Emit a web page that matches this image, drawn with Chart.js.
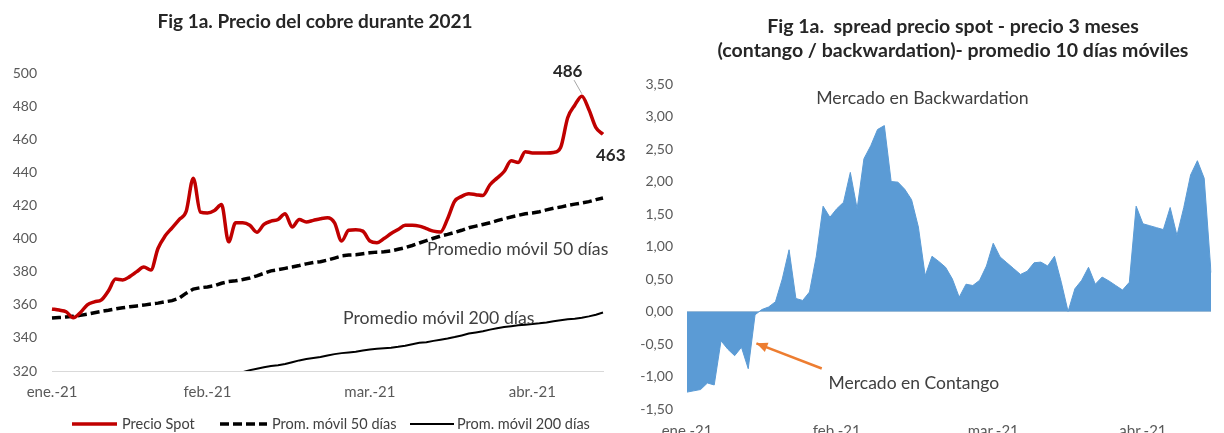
<!DOCTYPE html>
<html>
<head>
<meta charset="utf-8">
<script src="https://cdn.jsdelivr.net/npm/chart.js@4.4.1/dist/chart.umd.min.js"></script>
<style>
  html, body { margin: 0; padding: 0; background: #fff; overflow: hidden; width: 1224px; height: 433px; font-family: Lato, sans-serif; }
  canvas { position: absolute; top: 0; }
  #izq { left: 0; }
  #der { left: 630px; }
  .titulo { position: absolute; font-weight: bold; color: #262626; text-align: center; white-space: nowrap; }
  .ley { position: absolute; top: 415px; font-size: 14.5px; line-height: 18px; color: #404040; white-space: nowrap; }
  #muestras { position: absolute; left: 0; top: 415px; }
</style>
</head>
<body>
<canvas id="izq" width="630" height="433"></canvas>
<canvas id="der" width="594" height="445"></canvas>

<div class="titulo" style="left:0; width:630px; top:9px; font-size:19px; line-height:24px;">Fig 1a. Precio del cobre durante 2021</div>
<div class="titulo" style="left:630px; width:646px; top:14px; font-size:19.5px; line-height:24px;">Fig 1a.&nbsp; spread precio spot - precio 3 meses<br>(contango / backwardation)- promedio 10 días móviles</div>

<svg id="muestras" width="630" height="20">
  <line x1="72" y1="9" x2="117" y2="9" stroke="#c00000" stroke-width="3.5"/>
  <line x1="220" y1="9" x2="267" y2="9" stroke="#000" stroke-width="3.5" stroke-dasharray="9 4"/>
  <line x1="410" y1="9" x2="454" y2="9" stroke="#000" stroke-width="2"/>
</svg>
<span class="ley" style="left:122px;">Precio Spot</span>
<span class="ley" style="left:272px;">Prom. móvil 50 días</span>
<span class="ley" style="left:457px;">Prom. móvil 200 días</span>

<script>
// ---- datos: precio del cobre (izquierda) ----
const mesesIzq = ['ene.-21', 'feb.-21', 'mar.-21', 'abr.-21'];
const mesIdxIzq = [0, 22, 45, 68];

const precioSpot = [357.5, 356.8, 355.8, 352.2, 355.2, 360, 361.8, 363, 368.5, 375.5,
  375, 377, 380, 382.8, 381, 394, 401.5, 406.5, 411.5, 416.5,
  436.5, 416, 415.5, 417, 420.5, 398, 409.5, 409.5, 408, 403.8,
  408.5, 410.5, 411.5, 415, 407, 411.5, 410, 411, 412, 412.6,
  409.5, 398.5, 405, 405.3, 404.5, 398.5, 397.5, 400, 403, 405.5,
  408, 408, 407.5, 406, 404.5, 404, 412, 422.5, 425.5, 427,
  426.5, 426, 432.5, 436.5, 440.5, 447, 446, 452.5, 451.7, 451.7,
  451.7, 452, 455, 473, 480.5, 486, 478, 467, 463];

const promedio50 = [352, 352.3, 352.6, 353, 353.6, 354.3, 355.2, 356, 356.7, 357.5,
  358.2, 358.8, 359.3, 359.8, 360.5, 361, 361.8, 362.5, 364, 367,
  369.5, 370.3, 370.8, 371.5, 373, 374, 374.5, 375.3, 376.2, 377.5,
  379, 380.5, 381.2, 382, 382.8, 383.7, 384.7, 385.5, 386, 387,
  388.2, 389.5, 390, 390.2, 390.8, 391.4, 391.8, 392, 392.5, 393.5,
  394.5, 395.8, 397.3, 398.7, 400.2, 401.5, 402.5, 403.7, 405, 406.5,
  407.5, 408.5, 409.5, 410.8, 412, 413, 414, 415, 415.5, 416.2,
  417.3, 418.3, 419, 420, 420.8, 421.5, 422.3, 423.5, 424.5];

// bajo 320 al inicio: fuera del eje
const promedio200 = [null, null, null, null, null, null, null, null, null, null,
  null, null, null, null, null, null, null, null, null, null,
  null, null, null, null, null, null, null, 319.3, 320.5,
  321.4, 322.3, 323, 323.5, 324.2, 325.3, 326.4, 327.2, 327.8, 328.4,
  329.3, 330.2, 330.8, 331.2, 331.6, 332.4, 333, 333.4, 333.7, 334,
  334.6, 335.3, 336.2, 337, 337.4, 338.2, 338.9, 339.6, 340.5, 341.5,
  342.6, 343.3, 344, 345, 345.8, 346.6, 347.1, 347.6, 348, 348.4,
  348.8, 349.3, 350, 350.6, 351.2, 351.6, 352.2, 353, 354, 355.3];

// ---- datos: spread spot - 3 meses (derecha) ----
const mesesDer = ['ene.-21', 'feb.-21', 'mar.-21', 'abr.-21'];
const mesIdxDer = [0, 22, 45, 67];

const spread = [-1.24, -1.22, -1.20, -1.10, -1.13, -0.45, -0.58, -0.68, -0.55, -0.88,
  -0.05, 0.03, 0.07, 0.15, 0.50, 0.95, 0.20, 0.17, 0.30, 0.85,
  1.62, 1.45, 1.58, 1.68, 2.14, 1.58, 2.35, 2.55, 2.80, 2.86,
  2.00, 1.99, 1.88, 1.72, 1.30, 0.55, 0.85, 0.77, 0.68, 0.50,
  0.22, 0.42, 0.40, 0.48, 0.70, 1.05, 0.84, 0.75, 0.66, 0.57,
  0.62, 0.75, 0.76, 0.70, 0.85, 0.45, 0.00, 0.35, 0.48, 0.68,
  0.42, 0.53, 0.47, 0.40, 0.33, 0.45, 1.62, 1.35, 1.32, 1.29,
  1.26, 1.60, 1.17, 1.60, 2.10, 2.32, 2.05, 0.60];

const etiquetas = (serie, meses, idx) => serie.map((_, i) => {
  const k = idx.indexOf(i);
  return k >= 0 ? meses[k] : '';
});

Chart.defaults.font.family = 'Lato';
Chart.defaults.color = '#595959';

// textos y flechas sobre el grafico, en coordenadas de datos
const anotaciones = {
  id: 'anotaciones',
  afterDatasetsDraw(chart, args, opts) {
    const { ctx, scales: { x, y } } = chart;
    ctx.save();
    (opts.lineas || []).forEach(l => {
      const x1 = x.getPixelForValue(l.de[0]), y1 = y.getPixelForValue(l.de[1]);
      const x2 = x.getPixelForValue(l.a[0]), y2 = y.getPixelForValue(l.a[1]);
      ctx.strokeStyle = l.color;
      ctx.lineWidth = l.ancho;
      ctx.beginPath();
      ctx.moveTo(x1, y1);
      ctx.lineTo(x2, y2);
      ctx.stroke();
      if (l.flecha) {
        const ang = Math.atan2(y2 - y1, x2 - x1), L = 11, W = 5;
        ctx.fillStyle = l.color;
        ctx.beginPath();
        ctx.moveTo(x2, y2);
        ctx.lineTo(x2 - L * Math.cos(ang) + W * Math.sin(ang), y2 - L * Math.sin(ang) - W * Math.cos(ang));
        ctx.lineTo(x2 - L * Math.cos(ang) - W * Math.sin(ang), y2 - L * Math.sin(ang) + W * Math.cos(ang));
        ctx.closePath();
        ctx.fill();
      }
    });
    (opts.textos || []).forEach(t => {
      ctx.font = t.fuente;
      ctx.fillStyle = t.color || '#404040';
      ctx.textAlign = t.alin || 'left';
      ctx.textBaseline = 'middle';
      ctx.fillText(t.texto, x.getPixelForValue(t.i), y.getPixelForValue(t.v));
    });
    ctx.restore();
  }
};

new Chart(document.getElementById('izq'), {
  type: 'line',
  data: {
    labels: etiquetas(precioSpot, mesesIzq, mesIdxIzq),
    datasets: [
      { label: 'Precio Spot', data: precioSpot, borderColor: '#c00000', borderWidth: 3.5, pointRadius: 0, cubicInterpolationMode: 'monotone', borderJoinStyle: 'round' },
      { label: 'Prom. móvil 50 días', data: promedio50, borderColor: '#000', borderWidth: 3.5, borderDash: [9, 4], pointRadius: 0 },
      { label: 'Prom. móvil 200 días', data: promedio200, borderColor: '#000', borderWidth: 2, pointRadius: 0 }
    ]
  },
  options: {
    responsive: false,
    animation: false,
    layout: { padding: { top: 73, right: 27, bottom: 34, left: 0 } },
    plugins: {
      legend: { display: false },
      tooltip: { enabled: false },
      anotaciones: {
        textos: [
          { texto: '486', i: 73.0, v: 500.6, fuente: 'bold 17px Lato', color: '#262626', alin: 'center' },
          { texto: '463', i: 79.1, v: 449.9, fuente: 'bold 17px Lato', color: '#262626', alin: 'center' },
          { texto: 'Promedio móvil 50 días', i: 53.1, v: 393.7, fuente: '17.7px Lato' },
          { texto: 'Promedio móvil 200 días', i: 41.2, v: 352, fuente: '17.7px Lato' }
        ],
        lineas: [
          { de: [73.9, 495.7], a: [75, 487.5], color: '#a6a6a6', ancho: 1 }
        ]
      }
    },
    scales: {
      x: {
        grid: { display: false, drawTicks: false },
        border: { color: '#d9d9d9', width: 1 },
        ticks: { autoSkip: false, maxRotation: 0, minRotation: 0, padding: 12, font: { size: 15 } },
        afterFit(s) { s.height = 28; }
      },
      y: {
        min: 320, max: 500,
        grid: { display: false, drawTicks: false },
        border: { display: false },
        ticks: { stepSize: 20, padding: 15, font: { size: 14 } },
        afterFit(s) { s.width = 52; }
      }
    }
  },
  plugins: [anotaciones]
});

new Chart(document.getElementById('der'), {
  type: 'line',
  data: {
    labels: etiquetas(spread, mesesDer, mesIdxDer),
    datasets: [
      { label: 'spread', data: spread, fill: 'origin', backgroundColor: '#5b9bd5', borderColor: '#5b9bd5', borderWidth: 1, pointRadius: 0, tension: 0 }
    ]
  },
  options: {
    responsive: false,
    animation: false,
    layout: { padding: { top: 84, right: 1, bottom: 11, left: 0 } },
    plugins: {
      legend: { display: false },
      tooltip: { enabled: false },
      anotaciones: {
        textos: [
          { texto: 'Mercado en Backwardation', i: 34.6, v: 3.28, fuente: '17.7px Lato', alin: 'center' },
          { texto: 'Mercado en Contango', i: 20.8, v: -1.11, fuente: '17.5px Lato' }
        ],
        lineas: [
          { de: [19.8, -0.877], a: [10.2, -0.49], color: '#ed7d31', ancho: 2.5, flecha: true }
        ]
      }
    },
    scales: {
      x: {
        grid: { display: false, drawTicks: false },
        border: { display: false },
        ticks: { autoSkip: false, maxRotation: 0, minRotation: 0, padding: 13, font: { size: 15 } },
        afterFit(s) { s.height = 25; }
      },
      y: {
        min: -1.5, max: 3.5,
        grid: { drawTicks: false, color: c => c.tick.value === 0 ? '#d9d9d9' : 'rgba(0,0,0,0)' },
        border: { display: false },
        ticks: { stepSize: 0.5, padding: 14, font: { size: 14 }, callback: v => v.toFixed(2).replace('.', ',') },
        afterFit(s) { s.width = 57; }
      }
    }
  },
  plugins: [anotaciones]
});
</script>
</body>
</html>
